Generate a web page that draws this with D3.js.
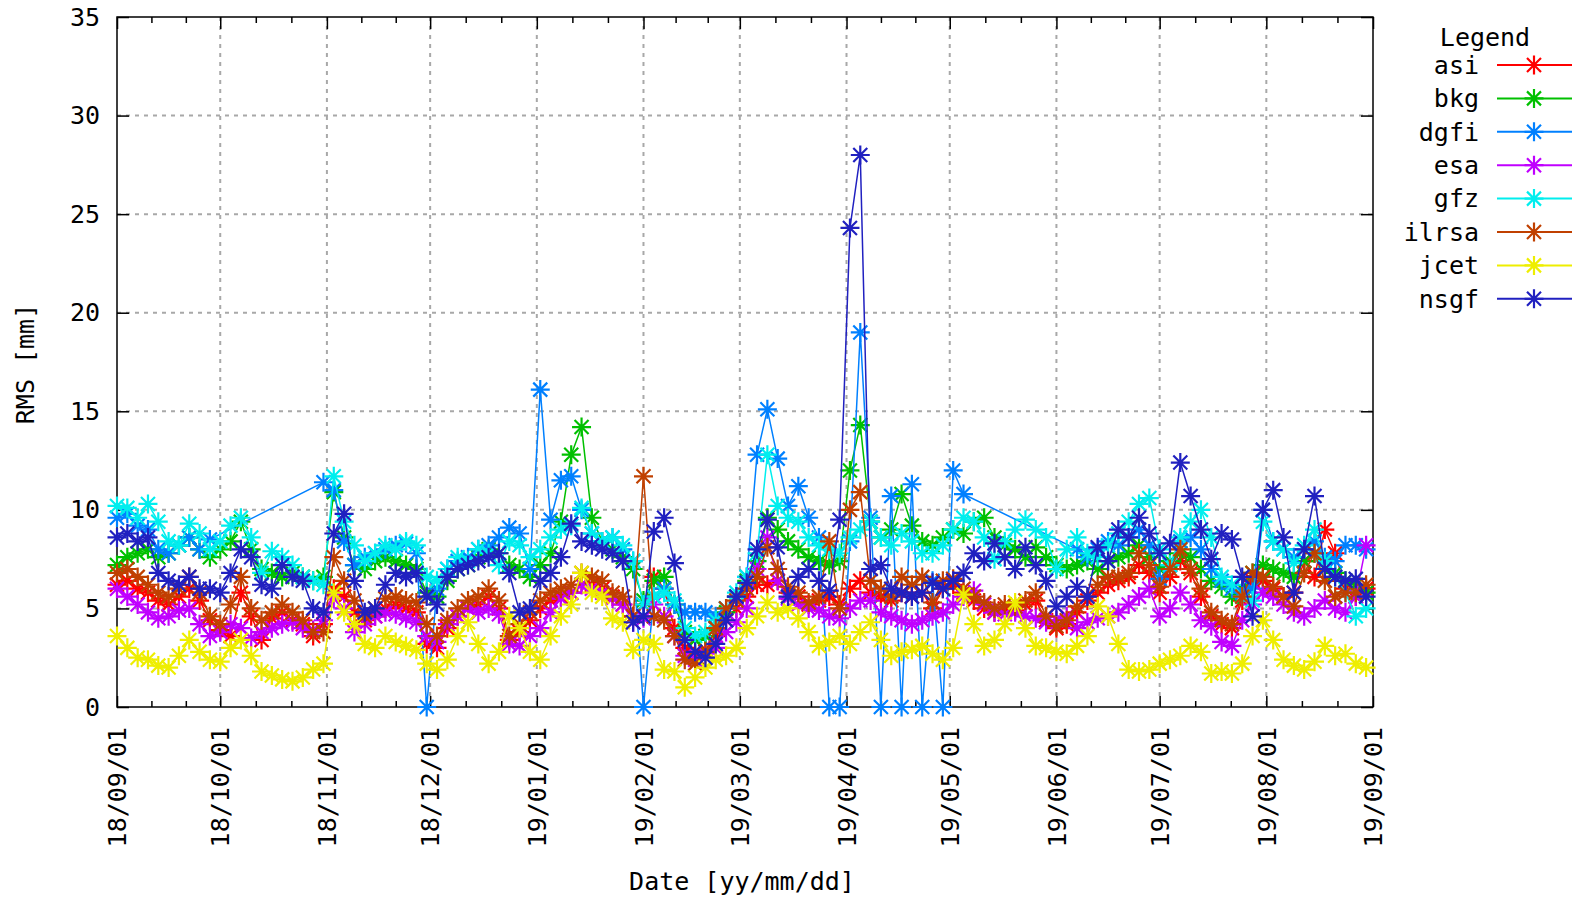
<!DOCTYPE html>
<html>
<head>
<meta charset="utf-8">
<script src="https://cdn.jsdelivr.net/npm/d3@7"></script>
<style>
body { margin: 0; background: #fff; }
text { font-family: "DejaVu Sans Mono", monospace; font-size: 25px; fill: #000; }
</style>
</head>
<body>
<svg id="chart"></svg>
<script>
const width = 1579;
const height = 897;
const plotLeft = 117, plotRight = 1373, plotTop = 17, plotBottom = 707;

// sampling: every 3rd day from 18/09/01
const startDate = new Date(Date.UTC(2018, 8, 1));
const endDate = new Date(Date.UTC(2019, 8, 1));
const dates = d3.utcDay.range(startDate, endDate, 3);

const seriesNames = ['asi', 'bkg', 'dgfi', 'esa', 'gfz', 'ilrsa', 'jcet', 'nsgf'];
const seriesColors = ['#ff0000', '#00c000', '#0080ff', '#c000ff', '#00eeee', '#c04000', '#eeee00', '#2020c0'];
const yTicks = [0, 5, 10, 15, 20, 25, 30, 35];

const asi = [
  6.2, 6.4, 6.0, 5.8, 5.4, 5.2, 5.6, 6.0, 5.4, 4.4,
  3.9, 3.6, 5.8, 4.6, 3.4, 4.5, 4.8, 4.4, 4.2, 3.6,
  4.2, 6.0, 5.6, 4.8, 4.4, 4.6, 5.0, 5.2, 5.0, 4.8,
  3.2, 3.0, 4.0, 4.6, 5.0, 5.2, 5.6, 5.0, 3.4, 3.8,
  4.4, 5.0, 5.4, 5.6, 5.8, 6.2, 6.2, 6.0, 5.6, 5.2,
  4.6, 5.2, 6.6, 6.0, 4.0, 3.0, 2.6, 2.9, 3.6, 4.4,
  5.0, 5.6, 6.2, 6.2, 6.4, 5.8, 5.6, 5.2, 5.4, 5.6,
  5.2, 6.0, 6.4, 5.8, 5.6, 5.4, 5.8, 5.6, 5.8, 5.0,
  6.0, 6.2, 5.8, 5.4, 5.0, 4.8, 5.0, 4.9, 5.2, 5.4,
  4.4, 4.0, 4.2, 4.8, 5.4, 5.8, 6.2, 6.4, 6.6, 7.2,
  6.8, 5.8, 6.6, 7.4, 6.8, 5.6, 4.6, 4.2, 4.0, 5.4,
  6.4, 6.4, 6.0, 5.6, 5.8, 7.4, 6.6, 9.0, 7.8, 6.0,
  5.6, 6.0
];
const bkg = [
  7.2, 7.6, 7.8, 8.0, 7.6, 7.8, 8.2, 8.6, 8.0, 7.6,
  8.0, 8.4, 9.4, 8.0, 7.0, 6.8, 6.6, 6.8, 6.6, 6.4,
  6.6, 10.9, 8.6, 7.2, 7.0, 7.4, 7.6, 7.4, 7.2, 7.0,
  5.8, 5.6, 6.4, 7.0, 7.2, 7.6, 8.0, 7.8, 7.2, 7.0,
  6.6, 7.2, 7.8, 9.4, 12.8, 14.2, 9.6, 8.4, 8.0, 7.6,
  7.0, 5.4, 6.4, 6.6, 5.2, 3.8, 3.4, 3.6, 4.0, 4.8,
  5.6, 6.4, 7.4, 9.6, 9.0, 8.4, 8.0, 7.6, 7.4, 7.2,
  7.4, 12.0, 14.3, 9.4, 8.6, 9.0, 10.8, 9.2, 8.4, 8.2,
  8.6, 9.0, 8.8, 9.4, 9.6, 8.6, 8.2, 8.0, 7.6, 8.1,
  7.6, 7.2, 7.0, 7.2, 7.4, 7.0, 7.4, 7.6, 7.8, 8.2,
  7.6, 7.0, 7.4, 7.8, 7.6, 7.0, 6.4, 6.1, 5.6, 6.0,
  6.8, 7.2, 7.0, 6.8, 6.6, 7.4, 7.8, 7.0, 6.8, 6.4,
  6.2, 5.8
];
const dgfi = [
  9.6, 9.8, 9.2, 9.0, 8.0, 7.8, 8.2, 8.6, 8.0, 8.5,
  null, null, null, null, null, null, null, null, null, null,
  11.4, 11.0, 8.4, 7.2, 7.6, 7.8, 8.0, 8.2, 8.3, 7.8,
  0, 6.0, 7.0, 7.4, 7.6, 8.0, 8.2, 8.6, 9.1, 8.8,
  7.0, 16.1, 9.5, 11.5, 11.7, 10.0, 8.8, 8.4, 8.6, 8.0,
  7.4, 0, 5.6, 6.0, 5.2, 4.8, 4.8, 4.8, 4.6, 5.0,
  5.6, 6.6, 12.8, 15.1, 12.6, 10.2, 11.2, 9.6, 8.6, 0,
  0, 8.4, 19.0, 9.6, 0, 10.7, 0, 11.3, 0, 6.4,
  0, 12.0, 10.8, null, null, null, null, null, null, null,
  null, null, null, 8.0, 7.6, 8.0, 8.4, 8.2, 8.6, 9.0,
  8.2, 6.5, 7.2, 8.4, 8.6, 8.0, 7.0, 6.4, 6.0, 5.8,
  6.0, 10.0, 8.4, 8.0, 7.6, 8.0, 8.4, 7.6, 7.4, 8.2,
  8.2, 8.0
];
const esa = [
  6.0, 5.6, 5.2, 4.8, 4.5, 4.6, 4.9, 5.0, 4.2, 3.6,
  3.8, 4.2, 4.0, 3.5, 3.8, 4.0, 4.2, 4.3, 4.0, 3.9,
  4.4, 5.5, 5.0, 3.8, 4.2, 4.6, 4.8, 4.7, 4.5, 4.3,
  3.6, 3.3, 4.2, 4.6, 5.0, 4.8, 5.0, 4.7, 3.2, 3.1,
  3.6, 4.0, 4.8, 5.5, 5.8, 6.2, 6.0, 5.8, 5.5, 5.2,
  4.3, 4.5, 5.2, 4.6, 3.6, 2.6, 2.4, 2.7, 3.0, 3.8,
  4.3, 5.0, 7.0, 8.6, 6.4, 5.5, 5.2, 5.0, 4.9, 4.6,
  4.5, 5.0, 5.4, 5.4, 4.8, 4.6, 4.4, 4.2, 4.4, 4.6,
  4.8, 5.2, 5.6, 5.9, 5.2, 4.8, 4.7, 4.8, 4.6, 4.5,
  4.3, 4.4, 4.6, 4.0, 4.3, 4.5, 4.6, 4.8, 5.2, 5.6,
  6.0, 4.6, 5.0, 5.8, 5.2, 4.4, 4.1, 3.3, 3.1, 4.4,
  5.2, 5.8, 5.6, 5.2, 4.8, 4.6, 5.0, 5.4, 5.0, 4.8,
  5.6, 8.2
];
const gfz = [
  10.2, 10.1, 9.6, 10.3, 9.4, 8.4, 8.2, 9.3, 8.8, 8.0,
  8.4, 9.2, 9.6, 8.6, 6.8, 7.9, 7.6, 7.2, 6.6, 6.4,
  6.2, 11.7, 9.4, 8.2, 7.4, 7.8, 8.2, 8.0, 8.4, 8.2,
  6.6, 6.4, 7.0, 7.6, 7.4, 8.0, 7.8, 7.2, 8.4, 8.2,
  7.6, 8.0, 8.6, 9.0, 9.2, 10.1, 8.8, 8.4, 8.6, 8.2,
  7.4, 5.2, 5.6, 5.8, 5.4, 4.0, 3.6, 3.8, 4.4, 5.0,
  5.8, 6.6, 7.8, 12.8, 10.2, 9.6, 9.4, 8.6, 8.2, 8.0,
  7.8, 8.6, 9.0, 9.4, 8.6, 8.2, 8.8, 8.4, 7.8, 7.8,
  8.2, 9.0, 9.6, 9.4, 8.6, 7.5, 8.4, 9.0, 9.5, 9.0,
  8.6, 7.0, 8.0, 8.6, 7.8, 7.6, 8.2, 8.8, 9.4, 10.3,
  10.6, 8.0, 7.2, 8.6, 9.4, 10.0, 8.6, 6.6, 6.2, 5.6,
  5.4, 9.4, 8.4, 8.0, 7.3, 8.2, 9.0, 7.4, 6.6, 5.8,
  4.6, 5.0
];
const ilrsa = [
  6.8, 7.0, 6.6, 6.2, 5.8, 5.6, 6.0, 6.6, 5.8, 4.6,
  4.2, 5.2, 6.6, 5.0, 4.4, 4.8, 5.2, 4.8, 4.4, 3.8,
  3.8, 7.6, 6.4, 5.4, 4.6, 5.0, 5.5, 5.6, 5.4, 5.3,
  4.2, 3.6, 4.4, 5.0, 5.4, 5.6, 6.0, 5.4, 3.6, 4.2,
  4.8, 5.4, 5.8, 6.0, 6.2, 6.8, 6.6, 6.4, 5.8, 5.6,
  4.6, 11.7, 4.6, 4.4, 3.6, 2.4, 2.2, 2.8, 4.0, 5.0,
  5.4, 6.0, 6.6, 8.1, 7.0, 6.1, 5.8, 5.3, 5.6, 8.4,
  5.0, 10.0, 10.9, 6.4, 6.0, 5.6, 6.6, 6.2, 6.6, 5.3,
  6.4, 6.5, 6.0, 5.6, 5.3, 5.0, 5.2, 5.1, 5.4, 5.8,
  4.6, 4.1, 4.4, 5.1, 5.6, 6.2, 6.6, 6.6, 6.8, 7.8,
  7.2, 6.1, 7.0, 8.0, 7.0, 6.0, 4.8, 4.4, 4.2, 5.6,
  6.8, 6.6, 6.1, 5.6, 5.1, 6.8, 7.8, 6.4, 5.6, 5.8,
  5.8, 6.2
];
const jcet = [
  3.6, 3.0, 2.5, 2.4, 2.1, 2.0, 2.6, 3.4, 2.8, 2.4,
  2.3, 3.0, 3.4, 2.6, 1.8, 1.6, 1.4, 1.3, 1.5, 1.9,
  2.2, 5.8, 4.8, 4.2, 3.2, 3.0, 3.6, 3.3, 3.1, 2.9,
  2.2, 1.9, 2.4, 3.6, 4.3, 3.2, 2.2, 2.8, 4.6, 4.0,
  2.8, 2.4, 3.6, 4.6, 5.2, 6.8, 5.8, 5.6, 4.5, 4.3,
  2.9, 3.4, 3.2, 1.9, 1.8, 1.0, 1.5, 2.0, 2.4, 2.6,
  3.0, 4.0, 4.6, 5.3, 4.8, 5.0, 4.5, 3.8, 3.1, 3.3,
  3.6, 3.2, 3.8, 4.3, 3.4, 2.6, 2.8, 2.9, 3.1, 2.7,
  2.4, 3.0, 5.7, 4.2, 3.1, 3.4, 4.2, 5.3, 4.0, 3.1,
  3.0, 2.8, 2.7, 3.1, 3.6, 5.1, 4.6, 3.2, 1.9, 1.8,
  1.9, 2.2, 2.4, 2.6, 3.1, 2.8, 1.7, 1.8, 1.7, 2.2,
  3.6, 4.4, 3.4, 2.4, 2.1, 1.9, 2.3, 3.1, 2.6, 2.7,
  2.2, 2.0
];
const nsgf = [
  8.6, 8.8, 8.4, 8.6, 6.8, 6.4, 6.2, 6.6, 6.0, 6.0,
  5.8, 6.8, 8.0, 7.6, 6.2, 6.0, 7.2, 6.6, 6.4, 5.0,
  4.8, 8.8, 9.8, 6.4, 4.8, 5.0, 6.2, 6.8, 6.6, 6.8,
  5.6, 5.2, 6.6, 7.0, 7.2, 7.4, 7.6, 7.8, 6.8, 4.8,
  5.0, 6.4, 6.8, 7.6, 9.3, 8.4, 8.2, 8.0, 7.8, 7.4,
  4.3, 4.6, 8.9, 9.6, 7.3, 3.4, 2.8, 2.5, 3.2, 4.4,
  5.6, 6.3, 8.0, 9.5, 8.1, 5.6, 6.6, 7.0, 6.4, 5.9,
  9.5, 24.3, 28.0, 7.0, 7.2, 6.0, 5.8, 5.6, 5.8, 6.3,
  6.0, 6.4, 6.8, 7.8, 7.4, 8.3, 7.6, 7.0, 8.1, 7.2,
  6.4, 5.1, 5.6, 6.1, 5.6, 8.1, 7.4, 9.0, 8.6, 9.6,
  8.8, 7.8, 8.3, 12.4, 10.7, 9.0, 7.5, 8.8, 8.5, 6.6,
  4.6, 10.0, 11.0, 8.6, 5.8, 8.0, 10.7, 7.0, 6.6, 6.4,
  6.5, 5.6
];
const seriesValues = [asi, bkg, dgfi, esa, gfz, ilrsa, jcet, nsgf];

const svg = d3.select('#chart')
            .attr('width', width)
            .attr('height', height)
            .style('display', 'block');

svg.append('rect').attr('width', width).attr('height', height).attr('fill', '#fff');

const x = d3.scaleUtc().domain([startDate, endDate]).range([plotLeft, plotRight]);
const y = d3.scaleLinear().domain([0, 35]).range([plotBottom, plotTop]);

const months = d3.utcMonth.range(startDate, d3.utcDay.offset(endDate, 1));
let minorTicks = [];
for (let i = 0; i < months.length - 1; i++) {
    const a = +months[i], b = +months[i + 1];
    minorTicks.push(new Date(a + (b - a) / 3), new Date(a + 2 * (b - a) / 3));
}

// grid
const grid = svg.append('g')
            .attr('stroke', '#a8a8a8')
            .attr('stroke-width', 2)
            .attr('stroke-dasharray', '4,5');
grid.selectAll('.gx').data(months.slice(1, -1)).enter().append('line')
    .attr('x1', d => x(d)).attr('x2', d => x(d))
    .attr('y1', plotTop).attr('y2', plotBottom);
grid.selectAll('.gy').data(yTicks.slice(1, -1)).enter().append('line')
    .attr('x1', plotLeft).attr('x2', plotRight)
    .attr('y1', d => y(d)).attr('y2', d => y(d));

// axes
const styleAxis = g => {
    g.select('.domain').remove();
    g.selectAll('line').attr('stroke-width', 1.5);
};

const xAxis = svg.append('g').attr('transform', `translate(0, ${plotBottom})`)
    .call(d3.axisBottom(x).tickValues(months).tickFormat(d3.utcFormat('%y/%m/%d'))
        .tickSizeInner(-11).tickSizeOuter(0).tickPadding(20))
    .call(styleAxis);
xAxis.selectAll('text')
    .attr('transform', 'rotate(-90)')
    .attr('text-anchor', 'end')
    .attr('x', -20)
    .attr('y', 0)
    .attr('dy', '0.35em');

svg.append('g').attr('transform', `translate(0, ${plotBottom})`)
    .call(d3.axisBottom(x).tickValues(minorTicks).tickFormat('').tickSizeInner(-6).tickSizeOuter(0))
    .call(styleAxis);
svg.append('g').attr('transform', `translate(0, ${plotTop})`)
    .call(d3.axisTop(x).tickValues(months).tickFormat('').tickSizeInner(-12).tickSizeOuter(0))
    .call(styleAxis);
svg.append('g').attr('transform', `translate(0, ${plotTop})`)
    .call(d3.axisTop(x).tickValues(minorTicks).tickFormat('').tickSizeInner(-6).tickSizeOuter(0))
    .call(styleAxis);

svg.append('g').attr('transform', `translate(${plotLeft}, 0)`)
    .call(d3.axisLeft(y).tickValues(yTicks).tickFormat(d3.format('d'))
        .tickSizeInner(-12).tickSizeOuter(0).tickPadding(17))
    .call(styleAxis);
svg.append('g').attr('transform', `translate(${plotRight}, 0)`)
    .call(d3.axisRight(y).tickValues(yTicks).tickFormat('').tickSizeInner(-12).tickSizeOuter(0))
    .call(styleAxis);

svg.append('rect')
    .attr('x', plotLeft).attr('y', plotTop)
    .attr('width', plotRight - plotLeft).attr('height', plotBottom - plotTop)
    .attr('fill', 'none').attr('stroke', '#000').attr('stroke-width', 1.5);

// star marker (gnuplot point type 3)
const star = 'M-9.5,0H9.5M0,-9.5V9.5M-7,-7L7,7M-7,7L7,-7';

const line = d3.line().x(d => x(d.date)).y(d => y(d.value));

seriesNames.forEach((name, i) => {
    const points = dates.map((d, j) => ({date: d, value: seriesValues[i][j]}))
        .filter(p => p.value !== null && p.value !== undefined);
    const g = svg.append('g').attr('class', 'series-' + name);
    g.append('path')
        .attr('d', line(points))
        .attr('fill', 'none')
        .attr('stroke', seriesColors[i])
        .attr('stroke-width', 1.5);
    g.selectAll('path.pt').data(points).enter().append('path')
        .attr('class', 'pt')
        .attr('transform', d => `translate(${x(d.date)}, ${y(d.value)})`)
        .attr('d', star)
        .attr('fill', 'none')
        .attr('stroke', seriesColors[i])
        .attr('stroke-width', 2.2);
});

// legend
const legend = svg.append('g');
legend.append('text')
    .attr('x', 1485).attr('y', 37).attr('dy', '0.35em')
    .attr('text-anchor', 'middle')
    .text('Legend');
seriesNames.forEach((name, i) => {
    const ly = 65 + i * 33.4;
    legend.append('text')
        .attr('x', 1479).attr('y', ly).attr('dy', '0.35em')
        .attr('text-anchor', 'end')
        .text(name);
    legend.append('line')
        .attr('x1', 1497).attr('x2', 1572).attr('y1', ly).attr('y2', ly)
        .attr('stroke', seriesColors[i]).attr('stroke-width', 2);
    legend.append('path')
        .attr('transform', `translate(1534, ${ly})`)
        .attr('d', star)
        .attr('fill', 'none')
        .attr('stroke', seriesColors[i])
        .attr('stroke-width', 2.2);
});

// axis titles
svg.append('text')
    .attr('transform', 'translate(25, 364) rotate(-90)')
    .attr('text-anchor', 'middle')
    .attr('dy', '0.35em')
    .text('RMS [mm]');
svg.append('text')
    .attr('x', 742).attr('y', 881).attr('dy', '0.35em')
    .attr('text-anchor', 'middle')
    .text('Date [yy/mm/dd]');
</script>
</body>
</html>
